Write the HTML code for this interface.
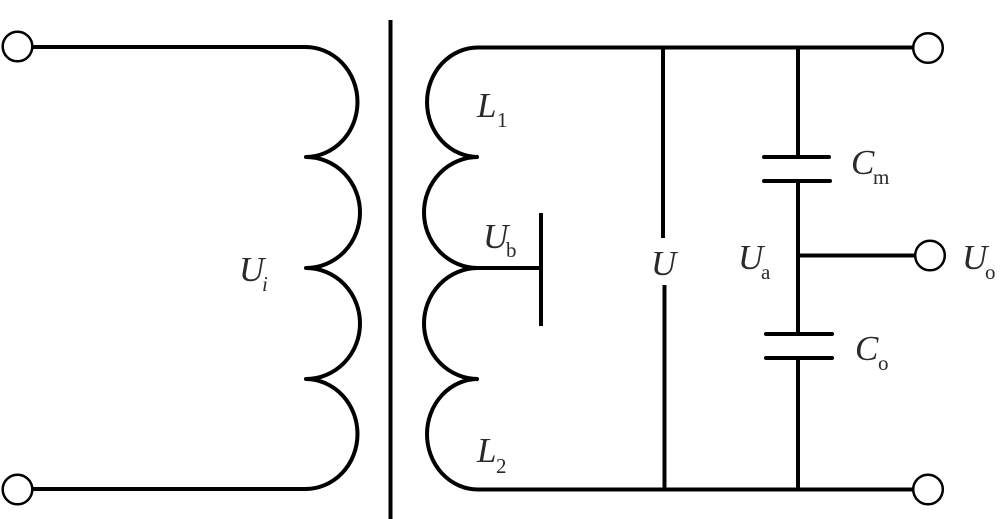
<!DOCTYPE html>
<html>
<head>
<meta charset="utf-8">
<style>
html,body{margin:0;padding:0;background:#fff}
svg{display:block}
text{font-family:"Liberation Serif",serif;fill:#2a2a2a}
.m{font-style:italic;font-size:35px}
.s{font-size:21px}
</style>
</head>
<body>
<svg width="1000" height="519" viewBox="0 0 1000 519" xmlns="http://www.w3.org/2000/svg">
<g fill="none" stroke="#000" stroke-width="4">
  <!-- primary winding -->
  <path d="M33 47H305A52 55 0 0 1 306 157A54 55.500 0 0 1 306 268A54 55.500 0 0 1 306 379A52 55 0 0 1 305 489H33"/>
  <path d="M306 157H313M306 268H313M306 379H313" stroke-linecap="round"/>
  <!-- core -->
  <path d="M390.500 20V519"/>
  <!-- secondary winding -->
  <path d="M913 47.500H478A51 54.750 0 0 0 478 157A54 55.500 0 0 0 478 268A54 55.500 0 0 0 478 379A51 55.250 0 0 0 478 489.500H913"/>
  <path d="M470 157H477M470 379H477" stroke-linecap="round"/>
  <path d="M471 268H541"/>
  <path d="M541 213V326"/>
  <!-- U branch -->
  <path d="M663 47V238M664.500 285V489"/>
  <!-- capacitor branch -->
  <path d="M798 47V157M798 181V334M798 358V489"/>
  <path d="M764 157H829M764 181H830M766 334H832M766 358H832" stroke-linecap="round"/>
  <path d="M798 255.500H915"/>
</g>
<g fill="#fff" stroke="#000" stroke-width="2.500">
  <circle cx="17.500" cy="46.500" r="14.800"/>
  <circle cx="17.500" cy="489.500" r="14.800"/>
  <circle cx="928" cy="48" r="14.800"/>
  <circle cx="930" cy="255.500" r="14.800"/>
  <circle cx="928" cy="489.500" r="14.800"/>
</g>
<text class="m" x="239" y="281">U</text><text class="s" x="262" y="291" font-style="italic">i</text>
<text class="m" x="477" y="117">L</text><text class="s" x="497" y="127">1</text>
<text class="m" x="483" y="248">U</text><text class="s" x="506" y="257">b</text>
<text class="m" x="477" y="462">L</text><text class="s" x="496" y="473">2</text>
<text class="m" x="651" y="275">U</text>
<text class="m" x="738" y="269">U</text><text class="s" x="761" y="279">a</text>
<text class="m" x="962" y="269">U</text><text class="s" x="985" y="279">o</text>
<text class="m" x="851" y="174">C</text><text class="s" x="873" y="184">m</text>
<text class="m" x="855" y="360">C</text><text class="s" x="878" y="370">o</text>
</svg>
</body>
</html>
